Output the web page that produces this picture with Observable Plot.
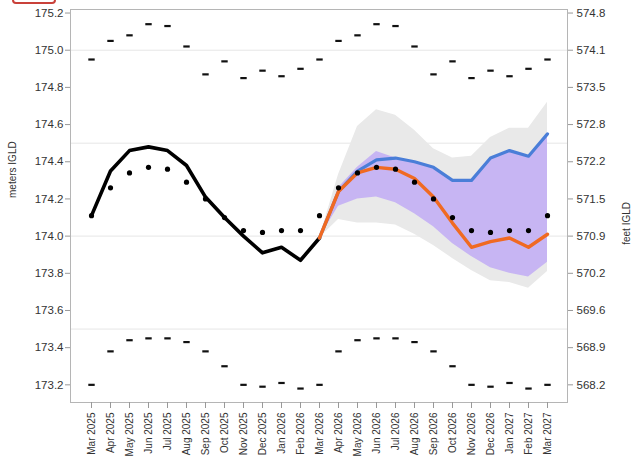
<!DOCTYPE html>
<html>
<head>
<meta charset="utf-8">
<script src="https://cdn.jsdelivr.net/npm/d3@7"></script>
<script src="https://cdn.jsdelivr.net/npm/@observablehq/plot@0.6"></script>
<style>
  html, body { margin: 0; padding: 0; background: #fff; }
  #wrap { position: relative; width: 633px; height: 458px; overflow: hidden; }
  #logo { position: absolute; left: 12px; top: -12px; width: 40px; height: 12px; border: 2px solid #c9413a; border-radius: 4px; background: #fff; }
</style>
</head>
<body>
<div id="wrap"><div id="logo"></div><div id="chart"></div></div>
<script>
const months = ["Mar 2025","Apr 2025","May 2025","Jun 2025","Jul 2025","Aug 2025","Sep 2025","Oct 2025","Nov 2025","Dec 2025","Jan 2026","Feb 2026","Mar 2026","Apr 2026","May 2026","Jun 2026","Jul 2026","Aug 2026","Sep 2026","Oct 2026","Nov 2026","Dec 2026","Jan 2027","Feb 2027","Mar 2027"];
const recordedMonths = months.slice(0, 13);
const forecastMonths = months.slice(12);

const recorded = [174.11,174.35,174.46,174.48,174.46,174.38,174.21,174.10,174.00,173.91,173.94,173.87,173.99];
const average  = [174.11,174.26,174.34,174.37,174.36,174.29,174.20,174.10,174.03,174.02,174.03,174.03,174.11,
                  174.26,174.34,174.37,174.36,174.29,174.20,174.10,174.03,174.02,174.03,174.03,174.11];
const recordMax = [174.95,175.05,175.08,175.14,175.13,175.02,174.87,174.94,174.85,174.89,174.86,174.90,174.95,
                   175.05,175.08,175.14,175.13,175.02,174.87,174.94,174.85,174.89,174.86,174.90,174.95];
const recordMin = [173.20,173.38,173.44,173.45,173.45,173.43,173.38,173.30,173.20,173.19,173.21,173.18,173.20,
                   173.38,173.44,173.45,173.45,173.43,173.38,173.30,173.20,173.19,173.21,173.18,173.20];

const forecastOrange = [173.99,174.24,174.34,174.37,174.36,174.31,174.21,174.07,173.94,173.97,173.99,173.94,174.01];
const forecastBlue   = [173.99,174.24,174.35,174.41,174.42,174.40,174.37,174.30,174.30,174.42,174.46,174.43,174.55];
const purpleHigh = [173.99,174.26,174.37,174.455,174.42,174.40,174.37,174.30,174.30,174.42,174.46,174.43,174.55];
const purpleLow  = [173.99,174.16,174.20,174.21,174.18,174.12,174.05,173.96,173.89,173.83,173.80,173.78,173.86];
const grayHigh   = [173.99,174.33,174.59,174.68,174.65,174.57,174.47,174.42,174.43,174.53,174.58,174.58,174.72];
const grayLow    = [173.99,174.09,174.07,174.07,174.06,174.01,173.95,173.88,173.815,173.76,173.75,173.72,173.81];

const meterTicks = [173.2,173.4,173.6,173.8,174.0,174.2,174.4,174.6,174.8,175.0,175.2];
const feetTickLabels = ["568.2","568.9","569.6","570.2","570.9","571.5","572.2","572.8","573.5","574.1","574.8"];
const gridLines = [173.5,174.0,174.5,175.0];

const recTable = recordedMonths.map((m, i) => ({month: m, value: recorded[i]}));
const allTable = months.map((m, i) => ({month: m, avg: average[i], max: recordMax[i], min: recordMin[i]}));
const fcTable = forecastMonths.map((m, i) => ({
  month: m, orange: forecastOrange[i], blue: forecastBlue[i],
  pHi: purpleHigh[i], pLo: purpleLow[i], gHi: grayHigh[i], gLo: grayLow[i]
}));

const dash = { draw(context) { context.rect(-3.2, -1.1, 6.4, 2.2); } };

const chart = Plot.plot({
  width: 633,
  height: 458,
  marginLeft: 70,
  marginRight: 66,
  marginTop: 9,
  marginBottom: 56,
  style: { fontFamily: "'Liberation Sans', Arial, sans-serif", color: "#333", background: "#fff" },
  x: { type: "point", domain: months, padding: 0.95 },
  y: { domain: [173.105, 175.219] },
  marks: [
    Plot.ruleY(gridLines, { stroke: "#e6e6e6", strokeWidth: 1 }),
    Plot.areaY(fcTable, { x: "month", y1: "gLo", y2: "gHi", fill: "#e9e9e9" }),
    Plot.areaY(fcTable, { x: "month", y1: "pLo", y2: "pHi", fill: "#c7b5f3" }),
    Plot.frame({ stroke: "#b5b5b5", strokeWidth: 1 }),
    Plot.dot(allTable, { x: "month", y: "max", symbol: dash, fill: "#111", stroke: "none" }),
    Plot.dot(allTable, { x: "month", y: "min", symbol: dash, fill: "#111", stroke: "none" }),
    Plot.line(recTable, { x: "month", y: "value", stroke: "#000", strokeWidth: 3.6 }),
    Plot.line(fcTable, { x: "month", y: "blue", stroke: "#4a7ed8", strokeWidth: 3.2 }),
    Plot.line(fcTable, { x: "month", y: "orange", stroke: "#f06a22", strokeWidth: 3.4 }),
    Plot.dot(allTable, { x: "month", y: "avg", r: 2.6, fill: "#000", stroke: "none" }),
    Plot.axisY({ anchor: "left", ticks: meterTicks, tickFormat: d => d.toFixed(1), tickSize: 5, tickPadding: 2, fontSize: 11.5, label: null, stroke: "#999" }),
    Plot.axisY({ anchor: "right", ticks: meterTicks, tickFormat: (d, i) => feetTickLabels[meterTicks.indexOf(d)], tickSize: 5, tickPadding: 4, fontSize: 11.5, label: null, stroke: "#999" }),
    Plot.axisX({ anchor: "bottom", tickRotate: -90, tickSize: 6, tickPadding: 4, fontSize: 10, label: null, stroke: "#999" }),
    Plot.text(["meters IGLD"], { frameAnchor: "left", rotate: -90, dx: -58, dy: -8, fontSize: 10, fill: "#333" }),
    Plot.text(["feet IGLD"], { frameAnchor: "right", rotate: -90, dx: 59, dy: -4, fontSize: 10, fill: "#333" })
  ]
});
document.getElementById("chart").appendChild(chart);
</script>
</body>
</html>
